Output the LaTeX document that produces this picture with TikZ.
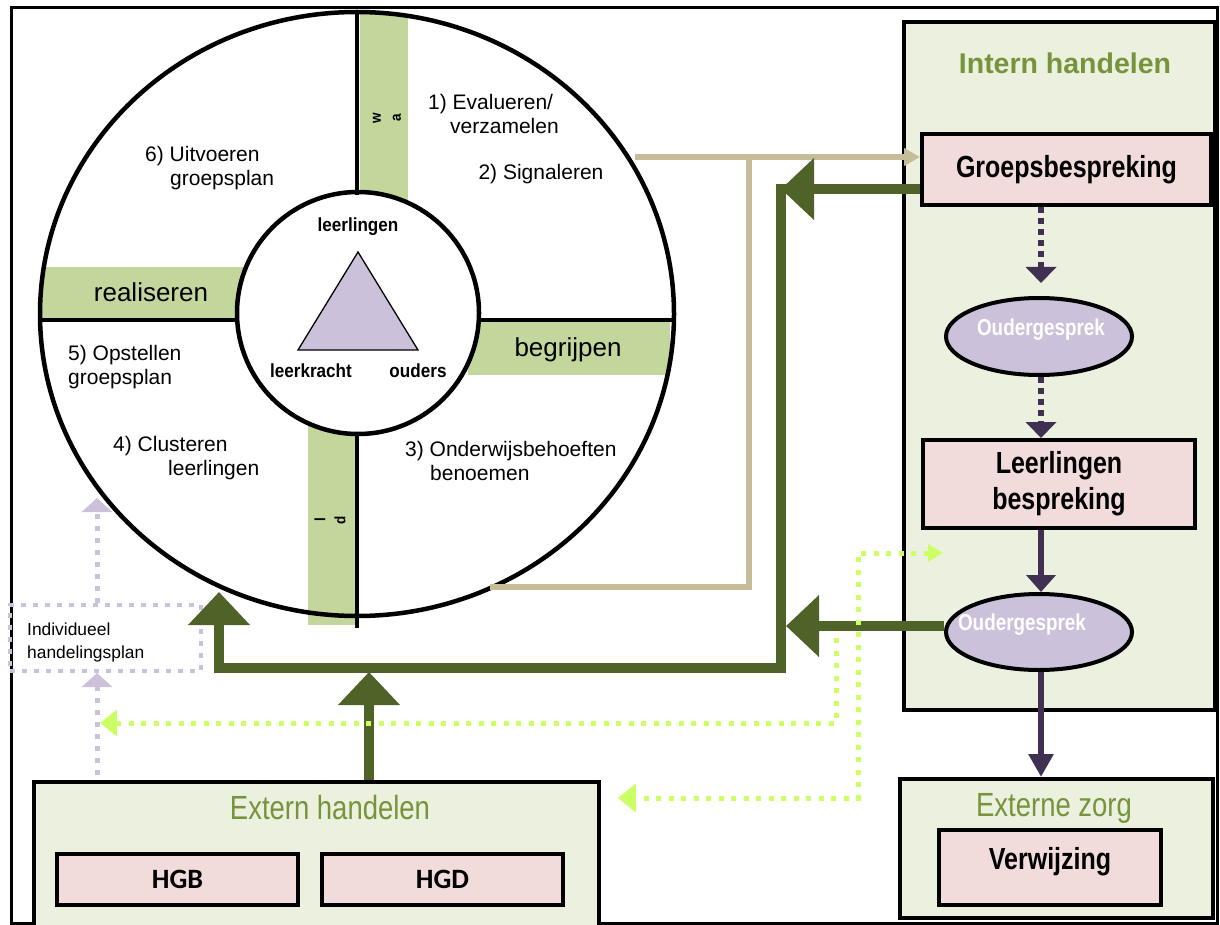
\documentclass[tikz,border=0pt]{standalone}
\usepackage{fontspec}
\setmainfont{Liberation Sans}
\newfontfamily\nar{Liberation Sans}[FakeStretch=0.82]
\newfontfamily\semi{Liberation Sans}[FakeStretch=0.9]
\newfontfamily\hgfont{Carlito}
\usetikzlibrary{arrows.meta,shapes.geometric,calc}
\definecolor{bandg}{HTML}{C3D69B}
\definecolor{panelg}{HTML}{EBF1DE}
\definecolor{pinkc}{HTML}{F2DCDB}
\definecolor{lav}{HTML}{CCC1DA}
\definecolor{dpurp}{HTML}{403152}
\definecolor{dgreen}{HTML}{4F6228}
\definecolor{titleg}{HTML}{77933C}
\definecolor{tanc}{HTML}{C4BD97}
\definecolor{limec}{HTML}{CCFF66}
\begin{document}
\begin{tikzpicture}[x=1pt,y=-1pt,
  sepline/.style={line width=4.5pt, line cap=butt},
  panel/.style={draw=black, line width=4pt, fill=panelg, inner sep=0pt},
  pinkbox/.style={draw=black, line width=4pt, fill=pinkc, inner sep=0pt, align=center,
    font={\nar\bfseries\fontsize{30.5}{36}\selectfont}},
  hgbox/.style={draw=black, line width=4pt, fill=pinkc, inner sep=0pt,
    font={\hgfont\bfseries\fontsize{28}{32}\selectfont}},
  oval/.style={ellipse, draw=black, line width=4pt, fill=lav, inner sep=0pt,
    minimum width=186pt, minimum height=77pt},
  ovaltxt/.style={inner sep=0pt, text=white, font={\nar\bfseries\fontsize{23}{26}\selectfont}},
  qtxt/.style={inner sep=0pt, align=left, font={\fontsize{21}{24}\selectfont}},
  bandtxt/.style={inner sep=0pt, font={\fontsize{26}{30}\selectfont}},
  inlbl/.style={inner sep=0pt, font={\semi\bfseries\fontsize{19}{22}\selectfont}},
  rottxt/.style={inner sep=0pt, rotate=90, align=center, font={\semi\bfseries\fontsize{15}{20}\selectfont}},
  ttl/.style={inner sep=0pt, text=titleg, font={\nar\fontsize{33.5}{36}\selectfont}},
  dgline/.style={draw=dgreen, line width=10pt, line join=miter, line cap=butt},
  dgtip/.style={-{Triangle[length=33pt, width=60pt]}},
  tanline/.style={draw=tanc, line width=6pt, line join=miter},
  pdot/.style={draw=dpurp, line width=6pt, dash pattern=on 6pt off 5pt},
  psolid/.style={draw=dpurp, line width=6pt},
  ldot/.style={draw=lav, line width=5pt, dash pattern=on 5pt off 7pt},
  limedot/.style={draw=limec, line width=5pt, dash pattern=on 5pt off 7.5pt}
]
\clip (0,0) rectangle (1220,925);
\fill[white] (0,0) rectangle (1220,925);
% outer frame
\draw[line width=3pt] (11,8) rectangle (1217,923);

% green bands
\fill[bandg] (360,14) rectangle (408,205);
\fill[bandg] (308,425) rectangle (355,625);
\fill[bandg] (42,267) rectangle (245,318);
\fill[bandg] (468,322) rectangle (670,375);

% circles
\draw[line width=4.5pt] (357,314) ellipse [x radius=317pt, y radius=302pt];
\draw[line width=4.5pt, fill=white] (358,313) circle [radius=121pt];
\draw[sepline] (357,13) -- (357,195);
\draw[sepline] (357,432) -- (357,628);
\draw[sepline] (40,320) -- (238,320);
\draw[sepline] (479,320) -- (673,320);

% triangle
\draw[fill=lav, line width=1.3pt, line join=miter] (358,252) -- (298,350) -- (418,350) -- cycle;
\node[inlbl] (lln) at (358,227) {leerlingen};
\node[inlbl] (lkr) at (311,371) {leerkracht};
\node[inlbl] (oud) at (418,371) {ouders};

% band texts
\node[bandtxt] (real) at (151,292) {realiseren};
\node[bandtxt] (begr) at (568,350) {begrijpen};
\node[rottxt] (wa) at (387,118) {w\\a};
\node[rottxt] (ld) at (330,520) {l\\d};

% quadrant texts
\node[qtxt, anchor=west] (q1) at (428,114) {1) Evalueren/\\\hspace*{22pt}verzamelen};
\node[qtxt] (q2) at (541,174) {2) Signaleren};
\node[qtxt, anchor=west] (q6) at (145,168) {6) Uitvoeren\\\hspace*{25pt}groepsplan};
\node[qtxt, anchor=west] (q5) at (68,367) {5) Opstellen\\groepsplan};
\node[qtxt, anchor=west] (q4) at (113,458) {4) Clusteren\\\hspace*{55pt}leerlingen};
\node[qtxt, anchor=west] (q3) at (405,461) {3) Onderwijsbehoeften\\\hspace*{25pt}benoemen};

% individueel handelingsplan
\node[draw=lav, line width=4pt, dash pattern=on 5pt off 7pt, minimum width=191pt, minimum height=66pt, inner sep=0pt] (indiv) at (105.5,638) {};
\node[inner sep=0pt, anchor=west, align=left, font={\fontsize{17.4}{23}\selectfont}] (indivt) at (27,642) {Individueel\\handelingsplan};

% right panel
\node[panel, minimum width=311pt, minimum height=688pt] (intern) at (1059.5,366) {};
\node[inner sep=0pt, text=titleg, font={\bfseries\fontsize{28.5}{30}\selectfont}] (internt) at (1065,63) {Intern handelen};
\node[pinkbox, minimum width=289pt, minimum height=71pt] (grp) at (1066.5,169.5) {Groepsbespreking};
\node[oval] (oud1) at (1039,336.5) {};
\node[ovaltxt] (oud1t) at (1041,330) {Oudergesprek};
\node[pinkbox, minimum width=272pt, minimum height=88pt] (lb) at (1059,484) {Leerlingen\\bespreking};
\node[oval, minimum height=76pt] (oud2) at (1039,632) {};
\node[ovaltxt] (oud2t) at (1022,625) {Oudergesprek};

% externe zorg
\node[panel, minimum width=313pt, minimum height=139pt] (ezorg) at (1056.5,848.5) {};
\node[pinkbox, minimum width=222pt, minimum height=75pt] (verw) at (1050,867.5) {};
\node[inner sep=0pt, font={\nar\bfseries\fontsize{30.5}{36}\selectfont}] (verwt) at (1050,862) {Verwijzing};
\node[ttl] (ezorgt) at (1054,808) {Externe zorg};

% extern handelen
\node[panel, minimum width=565pt, minimum height=146pt] (ext) at (316.5,855) {};
\node[hgbox, minimum width=241pt, minimum height=51pt] (hgb) at (177.5,879.5) {HGB};
\node[hgbox, minimum width=241pt, minimum height=51pt] (hgd) at (442.5,879.5) {HGD};
\node[ttl] (extt) at (330,808) {Extern handelen};

% coordinates for free ends
\coordinate (t0) at (635,157);
\coordinate (t1) at (490,587);
\coordinate (t2) at (749,157);
\coordinate (j1) at (781,189);
\coordinate (jtop) at (781,184);
\coordinate (jbot) at (781,668);
\coordinate (c1) at (219,592);
\coordinate (j2) at (786,626);
\coordinate (upt) at (369,672);
\coordinate (iv0) at (97,775);
\coordinate (iv1) at (97,498);
\coordinate (la) at (836,638);
\coordinate (lat) at (100,723);
\coordinate (lr) at (943,553);
\coordinate (lm) at (858,553);
\coordinate (ll) at (618,798);

% tan connectors
\draw[tanline, -{Triangle[length=16pt, width=17pt]}] (t0) -- (t0 -| grp.west);
\draw[tanline] (t1) -| (t2);

% dark green connectors
\draw[dgline, dgtip] ([yshift=-19.5pt]grp.west) -- (j1);
\draw[dgline, dgtip] (jtop) -- (jbot) -| (c1);
\draw[dgline, dgtip] ([yshift=6pt]oud2.west) -- (j2);
\draw[dgline, dgtip] (ext.north -| upt) -- (upt);

% purple connectors
\draw[pdot, -{Triangle[length=16pt, width=30pt]}] ([xshift=2pt]grp.south -| oud1.north) -- ([xshift=2pt,yshift=13pt]oud1.north);
\draw[pdot, -{Triangle[length=16pt, width=30pt]}] ([xshift=2pt]oud1.south) -- ([xshift=2pt]lb.north -| oud1.south);
\draw[psolid, -{Triangle[length=17pt, width=29pt]}] ([xshift=2pt]lb.south -| oud2.north) -- ([xshift=2pt]oud2.north);
\draw[psolid, -{Triangle[length=23pt, width=24pt]}] ([xshift=2pt]oud2.south) -- ([xshift=2pt]ezorg.north -| oud2.south);

% lavender dotted connectors
\draw[ldot, -{Triangle[length=14pt, width=30pt]}] (iv0) -- (iv0 |- indiv.south);
\draw[ldot, -{Triangle[length=14pt, width=30pt]}] (indiv.north -| iv1) -- (iv1);

% lime dotted connectors
\draw[limedot, -{Triangle[length=17pt, width=26pt]}] (la) |- (lat);
\draw[limedot, {Triangle[length=15pt, width=17pt]}-{Triangle[length=18pt, width=28pt]}] (lr) -- (lm) |- (ll);
\end{tikzpicture}
\end{document}
